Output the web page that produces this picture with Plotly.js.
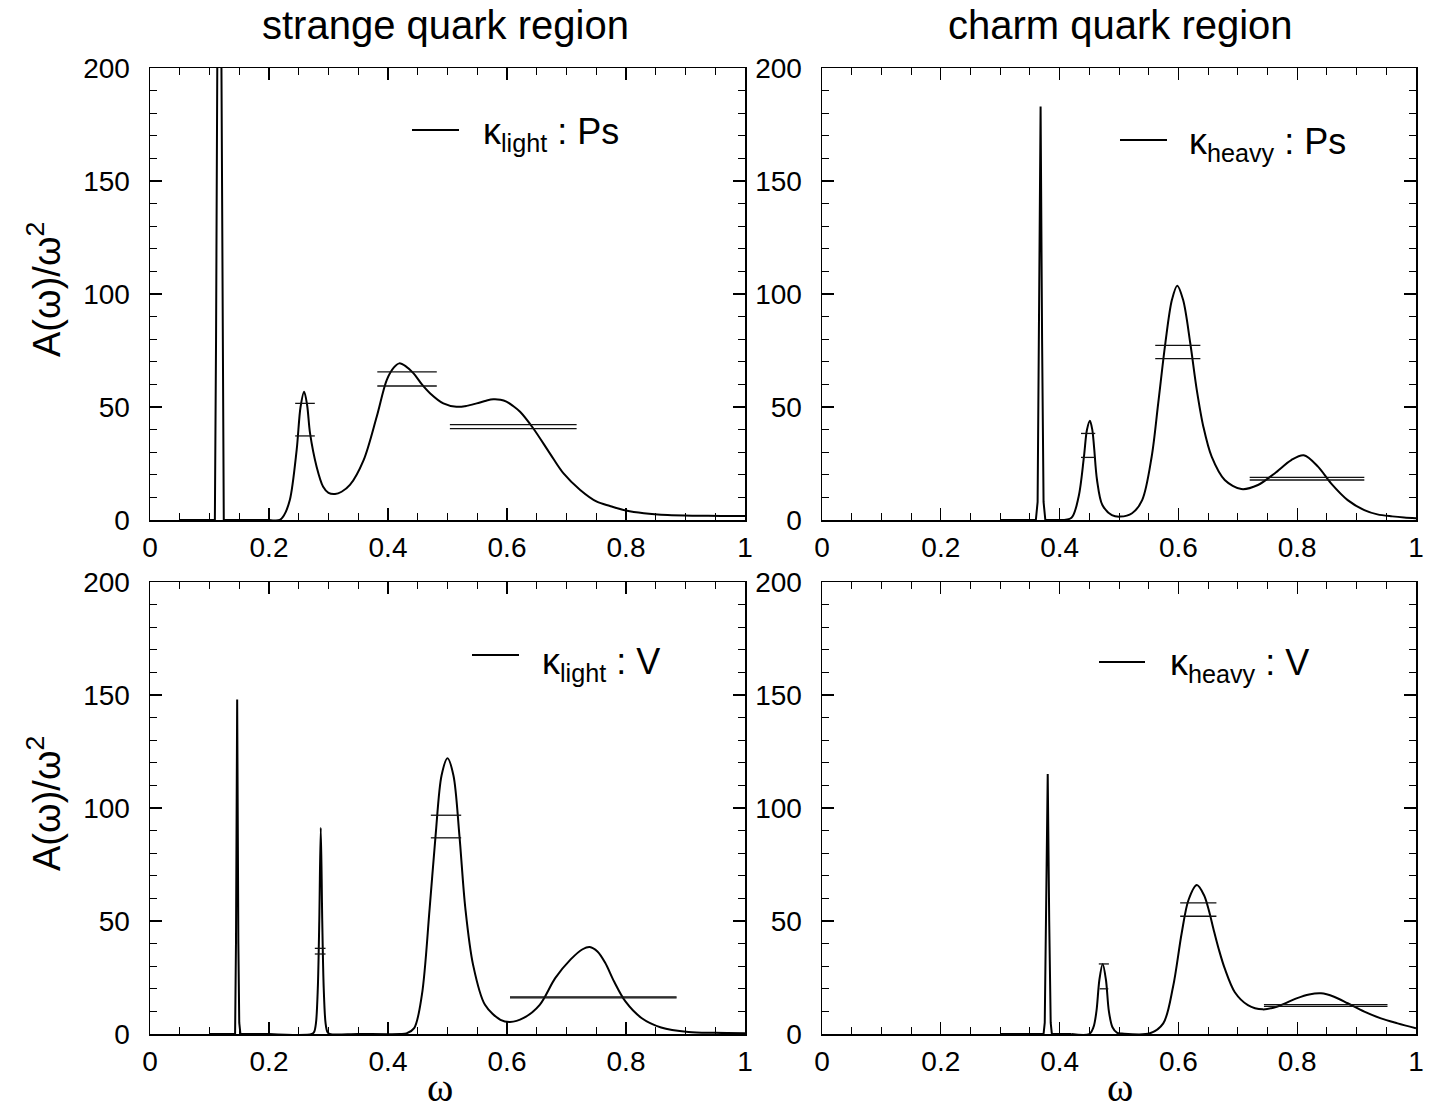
<!DOCTYPE html>
<html>
<head>
<meta charset="utf-8">
<script src="https://cdn.plot.ly/plotly-3.0.1.min.js"></script>
<style>html,body{margin:0;padding:0;background:#fff;}#chart{width:1439px;height:1113px;}</style>
</head>
<body>
<div id="chart"></div>
<script>
// ---------------- DATA ----------------
// strange quark region, pseudoscalar (kappa_light : Ps)
const psLightW = [0.05, 0.109, 0.111, 0.1135, 0.1165, 0.1195, 0.122, 0.124, 0.15, 0.2, 0.218, 0.225, 0.235, 0.2465, 0.253, 0.259, 0.264, 0.269, 0.28, 0.291, 0.3, 0.311, 0.322, 0.336, 0.359, 0.381, 0.398, 0.41, 0.419, 0.43, 0.443, 0.457, 0.471, 0.493, 0.515, 0.532, 0.549, 0.565, 0.577, 0.589, 0.599, 0.61, 0.622, 0.644, 0.672, 0.695, 0.723, 0.751, 0.773, 0.8, 0.83, 0.87, 0.92, 0.96, 1.0];
const psLightA = [0, 0, 80, 230, 400, 230, 80, 0, 0, 0, 0, 2, 8.8, 31, 50, 56.8, 51, 38.3, 23.6, 14.7, 12, 11.5, 12.5, 15.5, 26.5, 45.7, 62, 67.5, 69.3, 68, 64.9, 60, 56, 51.6, 50.1, 50.5, 51.6, 52.8, 53.4, 53.2, 52.4, 50.5, 47.9, 40.6, 29.5, 20.6, 13.3, 8.1, 6.2, 4.2, 3.0, 2.2, 1.9, 1.8, 1.8];
const psLightBarX0 = [0.244, 0.244, 0.382, 0.382, 0.504, 0.504];
const psLightBarX1 = [0.277, 0.277, 0.482, 0.482, 0.717, 0.717];
const psLightBarY  = [51.6, 37.2, 65.5, 59.3, 42.2, 40.4];

// charm quark region, pseudoscalar (kappa_heavy : Ps)
const psHeavyW = [0.30, 0.360, 0.363, 0.3655, 0.368, 0.3705, 0.373, 0.376, 0.40, 0.42, 0.432, 0.441, 0.446, 0.451, 0.455, 0.458, 0.463, 0.472, 0.488, 0.502, 0.522, 0.539, 0.555, 0.566, 0.578, 0.589, 0.598, 0.608, 0.620, 0.631, 0.642, 0.656, 0.678, 0.706, 0.734, 0.762, 0.79, 0.811, 0.835, 0.857, 0.885, 0.913, 0.935, 0.96, 0.98, 1.0];
const psHeavyA = [0, 0, 8, 80, 183, 80, 8, 0, 0, 1.0, 10.3, 28, 39.8, 43.9, 40, 32.4, 17.7, 6.6, 2.2, 1.5, 3.0, 8.8, 28, 51.6, 78.2, 97.3, 103.7, 97.3, 78.2, 57.5, 41.3, 28, 17.7, 13.7, 15.5, 20.6, 26.5, 28.6, 23.6, 16.2, 8.8, 4.4, 2.5, 1.6, 1.1, 0.8];
const psHeavyBarX0 = [0.436, 0.436, 0.561, 0.561, 0.720, 0.720];
const psHeavyBarX1 = [0.460, 0.460, 0.637, 0.637, 0.913, 0.913];
const psHeavyBarY  = [38.3, 27.7, 77.3, 71.4, 18.9, 17.7];

// strange quark region, vector (kappa_light : V)
const vLightW = [0.10, 0.143, 0.1445, 0.1465, 0.1485, 0.150, 0.152, 0.2, 0.272, 0.276, 0.279, 0.282, 0.2845, 0.287, 0.2895, 0.292, 0.295, 0.298, 0.302, 0.35, 0.42, 0.431, 0.444, 0.457, 0.470, 0.480, 0.490, 0.500, 0.510, 0.520, 0.530, 0.543, 0.563, 0.589, 0.605, 0.628, 0.655, 0.681, 0.707, 0.727, 0.739, 0.752, 0.765, 0.78, 0.799, 0.826, 0.859, 0.905, 0.95, 1.0];
const vLightA = [0, 0, 40, 148, 40, 5, 0, 0, 0, 1, 5, 20, 50, 91.3, 50, 20, 5, 1, 0, 0, 0, 0.3, 2.6, 17.4, 55.6, 87.9, 114.4, 122, 114.4, 87.9, 55.6, 30.6, 12.9, 6.3, 5.3, 7.1, 12.9, 24.7, 33, 37.5, 38.5, 36.5, 31.5, 23.2, 14.4, 7.1, 2.9, 0.9, 0.5, 0.3];
const vLightBarX0 = [0.277, 0.277, 0.472, 0.472, 0.605, 0.605];
const vLightBarX1 = [0.295, 0.295, 0.523, 0.523, 0.885, 0.885];
const vLightBarY  = [37.9, 35.4, 96.8, 86.8, 16.4, 16.0];

// charm quark region, vector (kappa_heavy : V)
const vHeavyW = [0.30, 0.373, 0.375, 0.3775, 0.380, 0.3825, 0.385, 0.387, 0.42, 0.45, 0.457, 0.462, 0.467, 0.4725, 0.478, 0.483, 0.489, 0.497, 0.505, 0.552, 0.5745, 0.591, 0.6055, 0.617, 0.631, 0.643, 0.651, 0.659, 0.668, 0.678, 0.695, 0.717, 0.742, 0.767, 0.8, 0.82, 0.84, 0.862, 0.885, 0.913, 0.941, 0.969, 1.0];
const vHeavyA = [0, 0, 5, 50, 115, 50, 5, 0, 0, 0, 3, 10, 24, 31, 24, 10, 3, 0.5, 0.2, 0.3, 4.7, 20.9, 44.6, 59.3, 65.9, 61.5, 55, 46.5, 37.5, 29, 18.5, 12.8, 10.9, 12.2, 15.9, 17.5, 18.0, 16.5, 13.6, 9.9, 6.9, 4.7, 2.5];
const vHeavyBarX0 = [0.466, 0.4675, 0.603, 0.603, 0.744, 0.744];
const vHeavyBarX1 = [0.483, 0.482, 0.664, 0.664, 0.952, 0.952];
const vHeavyBarY  = [31.0, 20.0, 58.0, 52.1, 13.0, 12.2];

// the sharp ground-state spike (below this omega) is drawn with straight segments
const spikeCut = [0.2, 0.40, 0.2, 0.42];

const xTickVals = [0, 0.2, 0.4, 0.6, 0.8, 1];
const xTickText = ['0', '0.2', '0.4', '0.6', '0.8', '1'];
const yTickVals = [0, 50, 100, 150, 200];
const yTickText = ['0', '50', '100', '150', '200'];

const columnTitles = ['strange quark region', 'charm quark region'];
const legendTexts = ['κ<sub>light</sub> : Ps', 'κ<sub>heavy</sub> : Ps', 'κ<sub>light</sub> : V', 'κ<sub>heavy</sub> : V'];
const yTitle = 'A(ω)/ω<sup>2</sup>';
const xTitle = 'ω';

// ---------------- LAYOUT HELPERS ----------------
const W = 1439, H = 1113;
const px = x => x / W;
const py = y => 1 - y / H;
const FONT = 'Liberation Sans, Arial, Helvetica, sans-serif';

const panels = [
  {xa: 'x',  ya: 'y',  L: 150, R: 745,  T: 68,  B: 520,  w: psLightW, a: psLightA, bx0: psLightBarX0, bx1: psLightBarX1, by: psLightBarY,
   leg: {l0: 412, l1: 459, ly: 130, tx: 481, ty: 134}},
  {xa: 'x2', ya: 'y2', L: 822, R: 1416, T: 68,  B: 520,  w: psHeavyW, a: psHeavyA, bx0: psHeavyBarX0, bx1: psHeavyBarX1, by: psHeavyBarY,
   leg: {l0: 1120, l1: 1167, ly: 140, tx: 1187, ty: 144}},
  {xa: 'x3', ya: 'y3', L: 150, R: 745,  T: 582, B: 1034, w: vLightW, a: vLightA, bx0: vLightBarX0, bx1: vLightBarX1, by: vLightBarY,
   leg: {l0: 472, l1: 519, ly: 655, tx: 540, ty: 664}},
  {xa: 'x4', ya: 'y4', L: 822, R: 1416, T: 582, B: 1034, w: vHeavyW, a: vHeavyA, bx0: vHeavyBarX0, bx1: vHeavyBarX1, by: vHeavyBarY,
   leg: {l0: 1099, l1: 1145, ly: 662, tx: 1168, ty: 665}}
];

const traces = [];
const layout = {
  width: W, height: H,
  margin: {l: 0, r: 0, t: 0, b: 0},
  paper_bgcolor: '#ffffff', plot_bgcolor: '#ffffff',
  showlegend: false,
  shapes: [], annotations: []
};

function axisCommon(isX) {
  return {
    showline: true, linecolor: '#000', linewidth: 1.5, mirror: 'allticks',
    ticks: 'inside', ticklen: 12, tickwidth: 1.2, tickcolor: '#000',
    showgrid: false, zeroline: false, fixedrange: true,
    tickfont: {family: FONT, size: 28, color: '#000'},
    minor: {ticks: 'inside', ticklen: 7, tickwidth: 1, tickcolor: '#000', dtick: isX ? 0.05 : 10, tick0: 0, showgrid: false},
    tickmode: 'array',
    tickvals: isX ? xTickVals : yTickVals,
    ticktext: isX ? xTickText : yTickText,
    range: isX ? [0, 1] : [0, 200],
    ticklabelstandoff: isX ? 2 : 13
  };
}

panels.forEach((p, i) => {
  const xk = p.xa === 'x' ? 'xaxis' : 'xaxis' + p.xa.slice(1);
  const yk = p.ya === 'y' ? 'yaxis' : 'yaxis' + p.ya.slice(1);
  layout[xk] = Object.assign(axisCommon(true), {domain: [px(p.L), px(p.R)], anchor: p.ya});
  layout[yk] = Object.assign(axisCommon(false), {domain: [py(p.B), py(p.T)], anchor: p.xa});

  const cut = spikeCut[i];
  const sW = [], sA = [], cW = [], cA = [];
  p.w.forEach((w, k) => {
    if (w <= cut) { sW.push(w); sA.push(p.a[k]); }
    if (w >= cut) { cW.push(w); cA.push(p.a[k]); }
  });
  traces.push({
    type: 'scatter', mode: 'lines', x: sW, y: sA, xaxis: p.xa, yaxis: p.ya,
    line: {color: '#000', width: 2, shape: 'linear'}, hoverinfo: 'skip'
  });
  traces.push({
    type: 'scatter', mode: 'lines', x: cW, y: cA, xaxis: p.xa, yaxis: p.ya,
    line: {color: '#000', width: 2, shape: 'spline', smoothing: 0.9}, hoverinfo: 'skip'
  });
  const bx = [], byy = [];
  p.bx0.forEach((v, k) => { bx.push(v, p.bx1[k], null); byy.push(p.by[k], p.by[k], null); });
  traces.push({
    type: 'scatter', mode: 'lines', x: bx, y: byy, xaxis: p.xa, yaxis: p.ya,
    line: {color: '#111', width: 1.3}, hoverinfo: 'skip'
  });

  // legend sample line + label
  layout.shapes.push({type: 'line', xref: 'paper', yref: 'paper',
    x0: px(p.leg.l0), x1: px(p.leg.l1), y0: py(p.leg.ly), y1: py(p.leg.ly),
    line: {color: '#000', width: 2}});
  layout.annotations.push({xref: 'paper', yref: 'paper', x: px(p.leg.tx), y: py(p.leg.ty),
    xanchor: 'left', yanchor: 'middle', showarrow: false,
    text: legendTexts[i], font: {family: FONT, size: 36, color: '#000'}});
});

// column titles
layout.annotations.push({xref: 'paper', yref: 'paper', x: px(445), y: py(25), xanchor: 'center', yanchor: 'middle',
  showarrow: false, text: columnTitles[0], font: {family: FONT, size: 40, color: '#000'}});
layout.annotations.push({xref: 'paper', yref: 'paper', x: px(1120), y: py(25), xanchor: 'center', yanchor: 'middle',
  showarrow: false, text: columnTitles[1], font: {family: FONT, size: 40, color: '#000'}});
// y titles
[290, 804].forEach(yc => layout.annotations.push({xref: 'paper', yref: 'paper', x: px(44), y: py(yc),
  xanchor: 'center', yanchor: 'middle', textangle: -90, showarrow: false, text: yTitle,
  font: {family: FONT, size: 38, color: '#000'}}));
// x titles
[440, 1120].forEach(xc => layout.annotations.push({xref: 'paper', yref: 'paper', x: px(xc), y: py(1112),
  xanchor: 'center', yanchor: 'bottom', showarrow: false, text: xTitle,
  font: {family: 'Liberation Serif, Times New Roman, serif', size: 40, color: '#000'}}));

Plotly.newPlot('chart', traces, layout, {displayModeBar: false, staticPlot: true});
</script>
</body>
</html>
